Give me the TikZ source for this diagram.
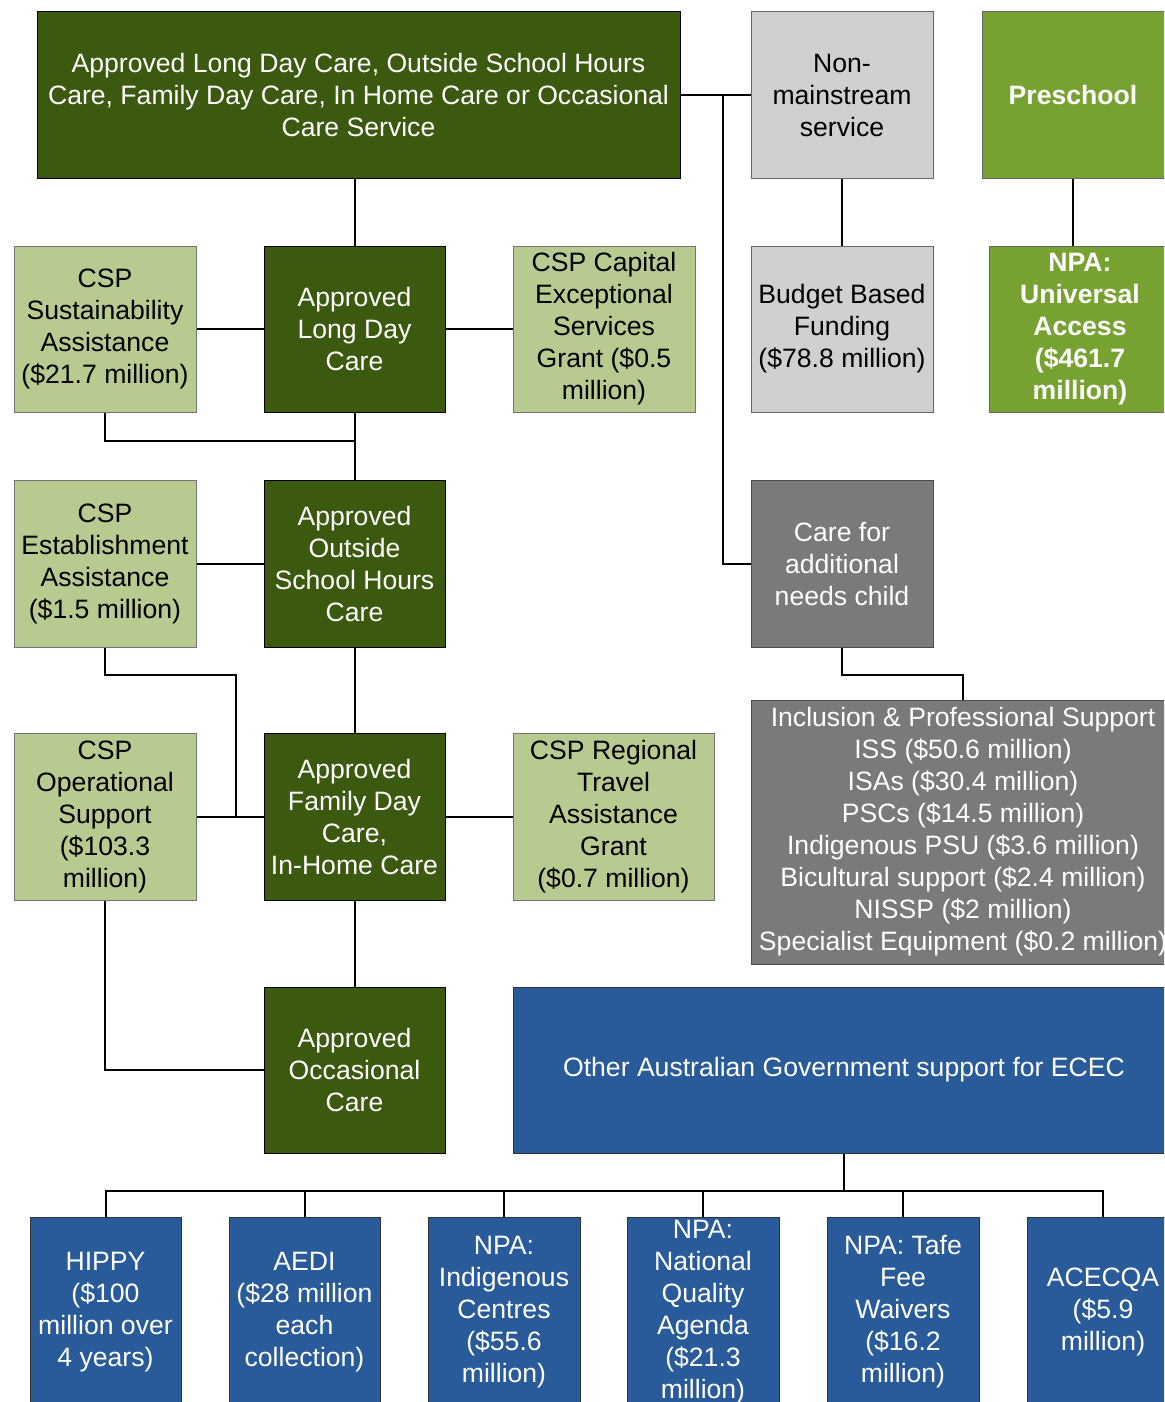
\documentclass[tikz,border=0pt]{standalone}
\usepackage{fontspec}
\setmainfont{Liberation Sans}
\definecolor{dkgreen}{RGB}{60,89,16}
\definecolor{ltgreen}{RGB}{183,202,143}
\definecolor{mdgreen}{RGB}{119,161,48}
\definecolor{ltgray}{RGB}{208,208,208}
\definecolor{dkgray}{RGB}{122,122,122}
\definecolor{ecblue}{RGB}{41,91,154}
\tikzset{
  box/.style={rectangle, draw=black!80, line width=1pt, inner sep=0pt, align=center,
    minimum width=182pt, minimum height=166pt, font=\fontsize{26.6}{32}\selectfont},
  dg/.style={box, fill=dkgreen, text=white, draw=black},
  lg/.style={box, fill=ltgreen, text=black, draw=black!55},
  mg/.style={box, fill=mdgreen, text=white, draw=black!60, font=\fontsize{26.6}{32}\selectfont\bfseries},
  gy/.style={box, fill=ltgray, text=black, draw=black!60},
  dgy/.style={box, fill=dkgray, text=white, draw=black!70},
  bl/.style={box, fill=ecblue, text=white, draw=black!80},
  conn/.style={draw=black, line width=2pt},
}
\begin{document}
\begin{tikzpicture}[x=1pt,y=-1pt]
\useasboundingbox (0,0) rectangle (1164,1402);
\clip (0,0) rectangle (1164,1402);

% row 1
\node[dg, minimum width=643pt] (top) at (358.5,95) {Approved Long Day Care, Outside School Hours\\Care, Family Day Care, In Home Care or Occasional\\Care Service};
\node[gy] (nonm) at (842,95) {Non-\\mainstream\\service};
\node[mg] (presch) at (1073,95) {Preschool};

% row 2
\node[lg] (csps) at (105,329) {CSP\\Sustainability\\Assistance\\(\$21.7 million)};
\node[dg, minimum width=181pt] (ldc) at (354.5,329) {Approved\\Long Day\\Care};
\node[lg] (cspc) at (604,329) {CSP Capital\\Exceptional\\Services\\Grant (\$0.5\\million)};
\node[gy] (bbf) at (842,329) {Budget Based\\Funding\\(\$78.8 million)};
\node[mg] (npaua) at (1080,329) {NPA:\\Universal\\Access\\(\$461.7\\million)};

% row 3
\node[lg, minimum height=167pt] (cspe) at (105,563.5) {CSP\\Establishment\\Assistance\\(\$1.5 million)};
\node[dg, minimum width=181pt, minimum height=167pt] (oshc) at (354.5,563.5) {Approved\\Outside\\School Hours\\Care};
\node[dgy, minimum height=167pt] (care) at (842,563.5) {Care for\\additional\\needs child};

% row 4
\node[lg, minimum height=167pt] (cspo) at (105,816.5) {CSP\\Operational\\Support\\(\$103.3\\million)};
\node[dg, minimum width=181pt, minimum height=167pt] (fdc) at (354.5,816.5) {Approved\\Family Day\\Care,\\In-Home Care};
\node[lg, minimum width=201pt, minimum height=167pt] (cspr) at (613.5,816.5) {CSP Regional\\Travel\\Assistance\\Grant\\(\$0.7 million)};
\node[dgy, minimum width=424pt, minimum height=264pt] (incl) at (963,832) {Inclusion \& Professional Support\\ISS (\$50.6 million)\\ISAs (\$30.4 million)\\PSCs (\$14.5 million)\\Indigenous PSU (\$3.6 million)\\Bicultural support (\$2.4 million)\\NISSP (\$2 million)\\Specialist Equipment (\$0.2 million)};

% row 5
\node[dg, minimum width=181pt] (occ) at (354.5,1070) {Approved\\Occasional\\Care};
\node[bl, minimum width=662pt] (other) at (844,1070) {Other Australian Government support for ECEC};

% row 6
\node[bl, minimum width=151pt, minimum height=190pt] (b1) at (105.5,1312) {HIPPY\\(\$100\\million over\\4 years)};
\node[bl, minimum width=151pt, minimum height=190pt] (b2) at (304.5,1312) {AEDI\\(\$28 million\\each\\collection)};
\node[bl, minimum width=152pt, minimum height=190pt] (b3) at (504,1312) {NPA:\\Indigenous\\Centres\\(\$55.6\\million)};
\node[bl, minimum width=152pt, minimum height=190pt] (b4) at (703,1312) {NPA:\\National\\Quality\\Agenda\\(\$21.3\\million)};
\node[bl, minimum width=152pt, minimum height=190pt] (b5) at (903,1312) {NPA: Tafe\\Fee\\Waivers\\(\$16.2\\million)};
\node[bl, minimum width=152pt, minimum height=190pt] (b6) at (1103,1312) {ACECQA\\(\$5.9\\million)};

% junction coordinates
\coordinate (j1) at (354.5,441);
\coordinate (j2) at (236,675);
\coordinate (j3) at (723,95);
\coordinate (j4) at (842,675);
\coordinate (j5) at (844,1191);

% connectors
\draw[conn] (top.south -| ldc.north) -- (ldc.north);
\draw[conn] (csps.east) -- (ldc.west);
\draw[conn] (ldc.east) -- (cspc.west);
\draw[conn] (csps.south) |- (j1);
\draw[conn] (ldc.south) -- (oshc.north);
\draw[conn] (cspe.east) -- (oshc.west);
\draw[conn] (cspe.south) |- (j2) -- (j2 |- fdc.west);
\draw[conn] (cspo.east) -- (fdc.west);
\draw[conn] (oshc.south) -- (fdc.north);
\draw[conn] (fdc.east) -- (cspr.west);
\draw[conn] (fdc.south) -- (occ.north);
\draw[conn] (cspo.south) |- (occ.west);
\draw[conn] (top.east) -- (nonm.west);
\draw[conn] (j3) |- (care.west);
\draw[conn] (nonm.south) -- (bbf.north);
\draw[conn] (presch.south) -- (presch.south |- npaua.north);
\draw[conn] (care.south) -- (j4) -| (incl.north);
\draw[conn] (other.south -| j5) -- (j5);
\draw[conn] (b1.north) -- (b1.north |- j5) -- (b6.north |- j5) -- (b6.north);
\draw[conn] (b2.north) -- (b2.north |- j5);
\draw[conn] (b3.north) -- (b3.north |- j5);
\draw[conn] (b4.north) -- (b4.north |- j5);
\draw[conn] (b5.north) -- (b5.north |- j5);
\end{tikzpicture}
\end{document}
